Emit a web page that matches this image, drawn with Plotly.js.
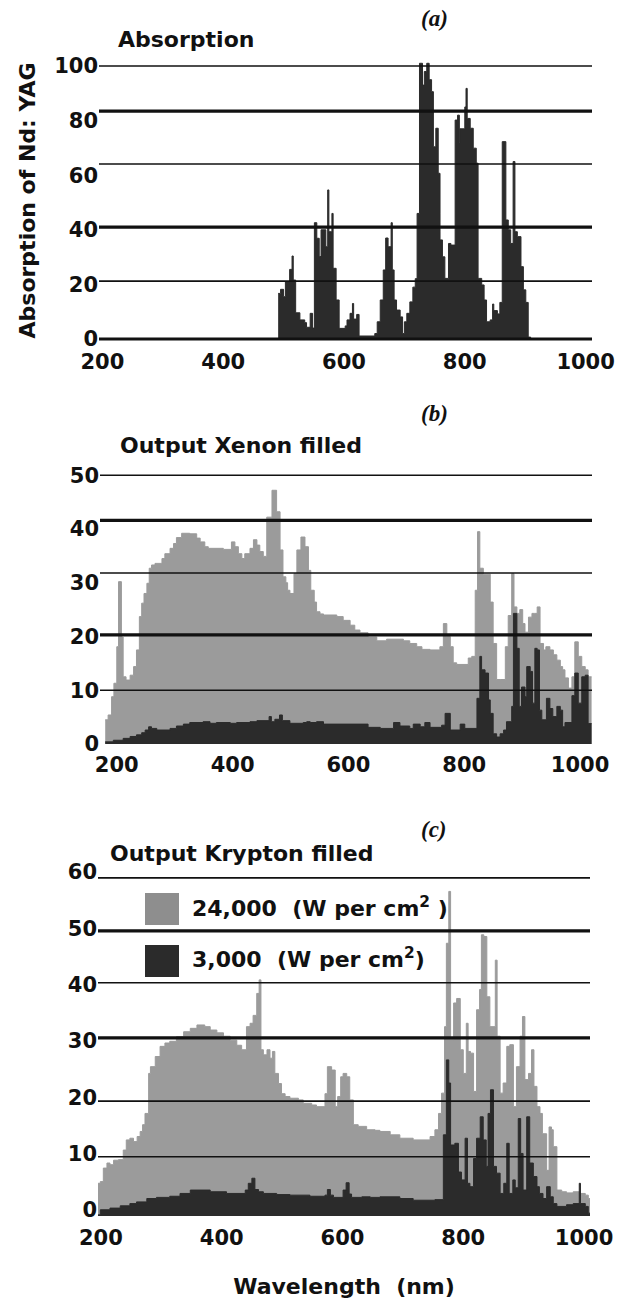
<!DOCTYPE html>
<html>
<head>
<meta charset="utf-8">
<script src="https://cdn.plot.ly/plotly-3.0.1.min.js"></script>
<style>html,body{margin:0;padding:0;background:#fff;}#chart{width:629px;height:1299px;}</style>
</head>
<body>
<div id="chart"></div>
<script>
// ---- Data ----
const wlTicks = [200, 400, 600, 800, 1000];
const absTicks = [0, 20, 40, 60, 80, 100];
const xeTicks = [0, 10, 20, 30, 40, 50];
const krTicks = [0, 10, 20, 30, 40, 50, 60];

// (a) Absorption of Nd:YAG
const absWl = [491,495,500,503,510,514,516,520,527,535,538,544,548,551,555,559,562,570,573,575,580,582,587,592,602,605,610,614,616,621,625,651,655,660,665,669,673,678,680,683,687,693,697,700,704,709,714,718,721,725,730,733,737,741,745,748,752,756,759,763,767,773,777,784,788,791,792,800,802,804,809,814,819,822,828,832,836,842,846,848,854,858,862,868,872,876,880,883,887,893,897,901,905,909];
const absVal = [16.7,18.2,15.5,21,25.5,30.4,21.6,9.6,7,6,4.3,9.4,4,42.6,36.9,30.2,40,33.8,54.6,39.3,46,25.9,14.3,3.9,4.8,7,9.4,13,7.3,9,1.1,2,6.3,14.3,25.3,37,33.8,42.6,25.3,14.3,10.6,8.1,2,6.3,9.4,13.6,19,22.1,46,101,93,98,101,95,90.6,70.4,77.2,60.7,36.3,30.1,22.2,35,34.4,80.2,82,72,77,85,91.8,80.8,77.2,69.9,64.4,22.2,19.8,14.3,6.3,7,12.8,10.4,9.2,13.4,72.3,43.6,40,35,65,39.3,37.5,26.5,18,13.4,0.7,0];

// (b) Xenon filled lamp output
const xeHighWl = [180,185,191,195,200,203,208,211,216,223,229,234,239,243,247,252,256,260,266,278,283,292,298,303,312,326,338,344,352,358,384,398,404,410,416,421,430,436,442,447,453,459,468,476,482,487,492,495,499,506,511,518,525,531,535,541,545,551,557,580,591,603,611,620,634,649,666,695,706,718,727,741,758,764,770,776,781,787,807,813,819,823,827,833,839,845,850,856,862,871,876,882,886,891,896,901,905,911,917,922,926,931,937,941,948,954,960,966,970,974,980,986,991,997,1003,1009,1014,1020];
const xeHighVal = [4.5,5.4,8.8,11.3,18.1,30.2,19.9,12.5,11.9,12.8,14.4,17.5,23.7,26.2,28,29.9,32.7,33.3,33.6,34.5,35.4,36.4,37.3,38.4,39.2,39.1,38.3,37.6,36.7,36.4,36.2,37.6,36.7,35.4,34.5,35.4,36.4,38,37,35.8,34.9,42.2,47.2,43.2,36.1,31.1,30,28.6,28,31.7,36.1,38.5,36.7,32.3,28.6,26.4,24.6,24.2,24,23.7,23,22.1,21.2,20.7,19.9,19.2,19.5,19.2,18.7,18.1,17.6,17.5,18.1,22.4,20,18.1,15.1,14.8,16,16.3,28.6,39.5,32.7,31.6,31.6,26.4,18.7,12,12,18.1,23.9,31.7,25.5,24.3,25,22.4,20.8,23.6,24.3,24.3,25.5,18.7,17.5,18.1,17.5,16.6,15.6,14.4,13.8,12.3,10.4,12.5,19,16.3,14.4,13.8,12.5,12.5];
const xeLowWl = [180,194,211,223,234,243,249,255,260,269,292,303,315,326,349,361,372,396,407,430,442,463,467,473,481,486,499,522,528,534,545,557,634,655,678,689,706,712,724,732,741,761,767,776,793,801,822,827,830,836,842,845,850,856,862,868,873,882,885,891,895,899,905,908,914,918,922,926,930,934,942,948,953,960,966,970,974,986,991,997,1003,1009,1014,1020];
const xeLowVal = [0.4,0.7,1.05,1.4,1.7,2.1,2.6,3.2,2.9,2.6,2.9,3.35,3.7,4,4.15,3.85,4,3.85,4,4.15,4.35,5.1,4.15,4.6,5.4,4.35,3.85,4,4.15,4,4.15,3.7,3.1,2.9,4,3.35,2.9,3.7,3.2,4,3.1,3.5,5.7,2.6,3.7,2.9,8.5,16.3,13.8,13.2,8.2,5.7,1.9,1.3,1.9,2.6,4.15,7,24.3,17.8,7,10.6,8.8,14.4,13.5,7.6,17.8,17.5,6.3,4.5,8.5,6.6,5.1,7,6.3,3.2,4,9,13.2,7.6,12.5,12.8,3.8,3.8];

// (c) Krypton filled lamp output
const krHighWl = [193,199,204,210,215,221,229,237,242,248,254,260,265,269,273,279,282,290,298,306,314,325,337,348,359,372,381,392,403,414,425,433,441,447,452,458,462,465,469,475,480,484,488,494,499,505,513,527,535,549,557,571,575,582,588,592,597,601,607,612,618,626,640,654,662,679,695,717,745,753,759,764,769,772,776,779,784,789,795,800,805,808,812,817,822,827,830,834,839,844,853,856,861,866,872,877,883,888,894,898,902,908,913,917,922,927,931,938,942,946,949,955,963,971,982,993,1002,1007,1011];
const krHighVal = [5.8,6.1,8.5,9.4,9.1,9.9,10,11.7,13.5,13.8,13.2,14.1,15,16.2,18.2,25.3,26.5,28.3,30.1,30.7,31,31.8,32.7,33.3,33.9,33.6,33,32.5,31.9,31.2,30.3,29.5,33.6,34.2,35.6,39.5,41.9,29.5,28.6,29.5,28,29.2,25.3,23.5,21.7,21.2,20.9,20.6,20,19.7,19.4,21.7,26.5,25.9,19.4,21.2,24.7,25.3,24.7,20.6,16.2,15.9,15.3,15.2,15,14.4,13.8,13.5,14.1,15.3,18.2,21.8,33.6,48.4,57.6,31.3,37.8,38.6,29.5,25.3,34.2,29.2,28.9,22.1,36.6,40.2,49.9,49.6,38.9,33.6,45.4,31.9,21.8,23.6,30.1,30.4,19.4,26.5,31.9,35.4,24.2,25.3,29.5,23,19.4,18.2,14.6,8.1,15.8,15.3,12.3,4.6,4.3,4.1,4.3,4,3.7,3.1,3.1];
const krLowWl = [193,199,215,232,248,259,276,292,314,331,348,381,408,439,444,450,455,461,469,491,513,546,571,575,580,585,601,606,611,615,632,646,662,695,717,753,767,772,776,779,786,792,797,803,807,811,817,822,828,833,838,841,845,850,855,861,867,872,876,882,886,891,895,899,905,910,916,922,926,932,938,944,949,955,971,982,992,994,1002,1007,1011];
const krLowVal = [0.2,1.1,1.4,1.8,2.2,2.5,3.1,3.3,3.5,4,4.6,4.3,4,4.6,5.8,6.7,4.7,4.3,4,3.8,3.7,3.5,3.7,4.7,3.7,3.3,4.6,5.9,3.9,3.3,3.4,3.3,3.4,3.1,2.8,2.9,14.4,27.7,23.6,12.6,12.9,7.8,6.4,13.8,5.8,5.2,10.2,13.8,17.6,13.5,8.8,18.2,22.4,8.8,7.6,4,5.8,12.9,4,6.4,5,17.3,11.1,4.6,17.6,9.4,7,5.2,4,3.1,5.2,3.4,2.2,1.7,2,2.2,5.8,2.2,1.7,0.5,0.5];

// ---- Styling ----
const W = 629, H = 1299;
const DARK = '#2b2b2b', GRAY = '#9b9b9b';
const boldFont = {family: 'DejaVu Sans', size: 22, color: '#111', weight: 'bold'};
const tickFont = {family: 'DejaVu Sans', size: 21, color: '#111', weight: 'bold'};
const px = v => v / W;
const py = v => 1 - v / H;

function area(x, y, color, xa, ya) {
  return {x: x, y: y, type: 'scatter', mode: 'lines', xaxis: xa, yaxis: ya,
    line: {shape: 'hv', color: color, width: 1}, fill: 'tozeroy', fillcolor: color,
    hoverinfo: 'skip', showlegend: false};
}

const data = [
  area(absWl, absVal, DARK, 'x', 'y'),
  area(xeHighWl, xeHighVal, GRAY, 'x2', 'y2'),
  area(xeLowWl, xeLowVal, DARK, 'x2', 'y2'),
  area(krHighWl, krHighVal, GRAY, 'x3', 'y3'),
  area(krLowWl, krLowVal, DARK, 'x3', 'y3')
];

function xAxis(domainPx, range, anchor, standoff, extra) {
  return Object.assign({domain: [px(domainPx[0]), px(domainPx[1])], range: range, anchor: anchor,
    tickvals: wlTicks, showgrid: false, zeroline: false, showline: false, ticks: '',
    ticklabelstandoff: standoff, tickfont: tickFont, fixedrange: true}, extra || {});
}
function yAxis(domainPx, range, anchor, ticks, extra) {
  return Object.assign({domain: [py(domainPx[1]), py(domainPx[0])], range: range, anchor: anchor,
    tickvals: ticks, showgrid: false, zeroline: false, showline: false, ticks: '',
    tickfont: tickFont, fixedrange: true}, extra || {});
}

// gridlines as drawn in the figure (value, thickness)
function grid(xref, yref, lines) {
  return lines.map(l => ({type: 'line', xref: xref + ' domain', yref: yref, x0: 0, x1: 1,
    y0: l[0], y1: l[0], line: {color: '#111', width: l[1]}, layer: 'above'}));
}
const shapes = [].concat(
  grid('x', 'y', [[100, 1.6], [83.5, 3.2], [64.1, 1.6], [41.0, 3.2], [21.2, 1.6], [0, 3.2]]),
  grid('x2', 'y2', [[50, 1.6], [41.6, 3.2], [31.8, 1.6], [20.3, 3.2], [10.0, 1.6]]),
  grid('x3', 'y3', [[60, 1.6], [50.6, 3.2], [41.4, 1.6], [31.6, 3.2], [20.4, 1.8], [10.5, 1.6]]),
  [
    {type: 'rect', xref: 'paper', yref: 'paper', x0: px(145), x1: px(179), y0: py(925), y1: py(893),
     fillcolor: '#8e8e8e', line: {width: 0}},
    {type: 'rect', xref: 'paper', yref: 'paper', x0: px(145), x1: px(179), y0: py(977), y1: py(945),
     fillcolor: DARK, line: {width: 0}}
  ]
);

const labelFont = {family: 'Liberation Serif', size: 23, color: '#111', style: 'italic', weight: 'bold'};
function note(text, x, y, font, xanchor) {
  return {text: text, xref: 'paper', yref: 'paper', x: px(x), y: py(y), showarrow: false,
    xanchor: xanchor || 'left', yanchor: 'middle', font: font};
}
const annotations = [
  note('(a)', 434, 19, labelFont, 'center'),
  note('Absorption', 116, 40, boldFont),
  note('(b)', 434, 414, labelFont, 'center'),
  note('Output Xenon filled', 118, 445, boldFont),
  note('(c)', 434, 829, labelFont, 'center'),
  note('Output Krypton filled', 108, 853, boldFont),
  note('24,000\u00a0 (W per cm<sup>2</sup> )', 190, 907, boldFont),
  note('3,000\u00a0 (W per cm<sup>2</sup>)', 190, 958, boldFont)
];

const layout = {
  width: W, height: H, margin: {l: 0, r: 0, t: 0, b: 0},
  paper_bgcolor: '#ffffff', plot_bgcolor: 'rgba(0,0,0,0)', showlegend: false,
  font: {family: 'DejaVu Sans', color: '#111'},
  xaxis: xAxis([99, 592], [194.4, 1010.6], 'y', 6),
  yaxis: yAxis([60, 341], [-0.73, 102.2], 'x', absTicks,
    {title: {text: 'Absorption of Nd: YAG', font: boldFont, standoff: 12}}),
  xaxis2: xAxis([100, 592], [171, 1020.7], 'y2', 4),
  yaxis2: yAxis([465, 746], [-0.37, 51.9], 'x2', xeTicks),
  xaxis3: xAxis([98, 590], [195.2, 1009.8], 'y3', 6,
    {title: {text: 'Wavelength\u00a0 (nm)', font: boldFont, standoff: 34}}),
  yaxis3: yAxis([870, 1217], [-0.18, 61.4], 'x3', krTicks, {ticklabelshift: -6}),
  shapes: shapes,
  annotations: annotations
};

Plotly.newPlot('chart', data, layout, {displayModeBar: false, staticPlot: true});
</script>
</body>
</html>
